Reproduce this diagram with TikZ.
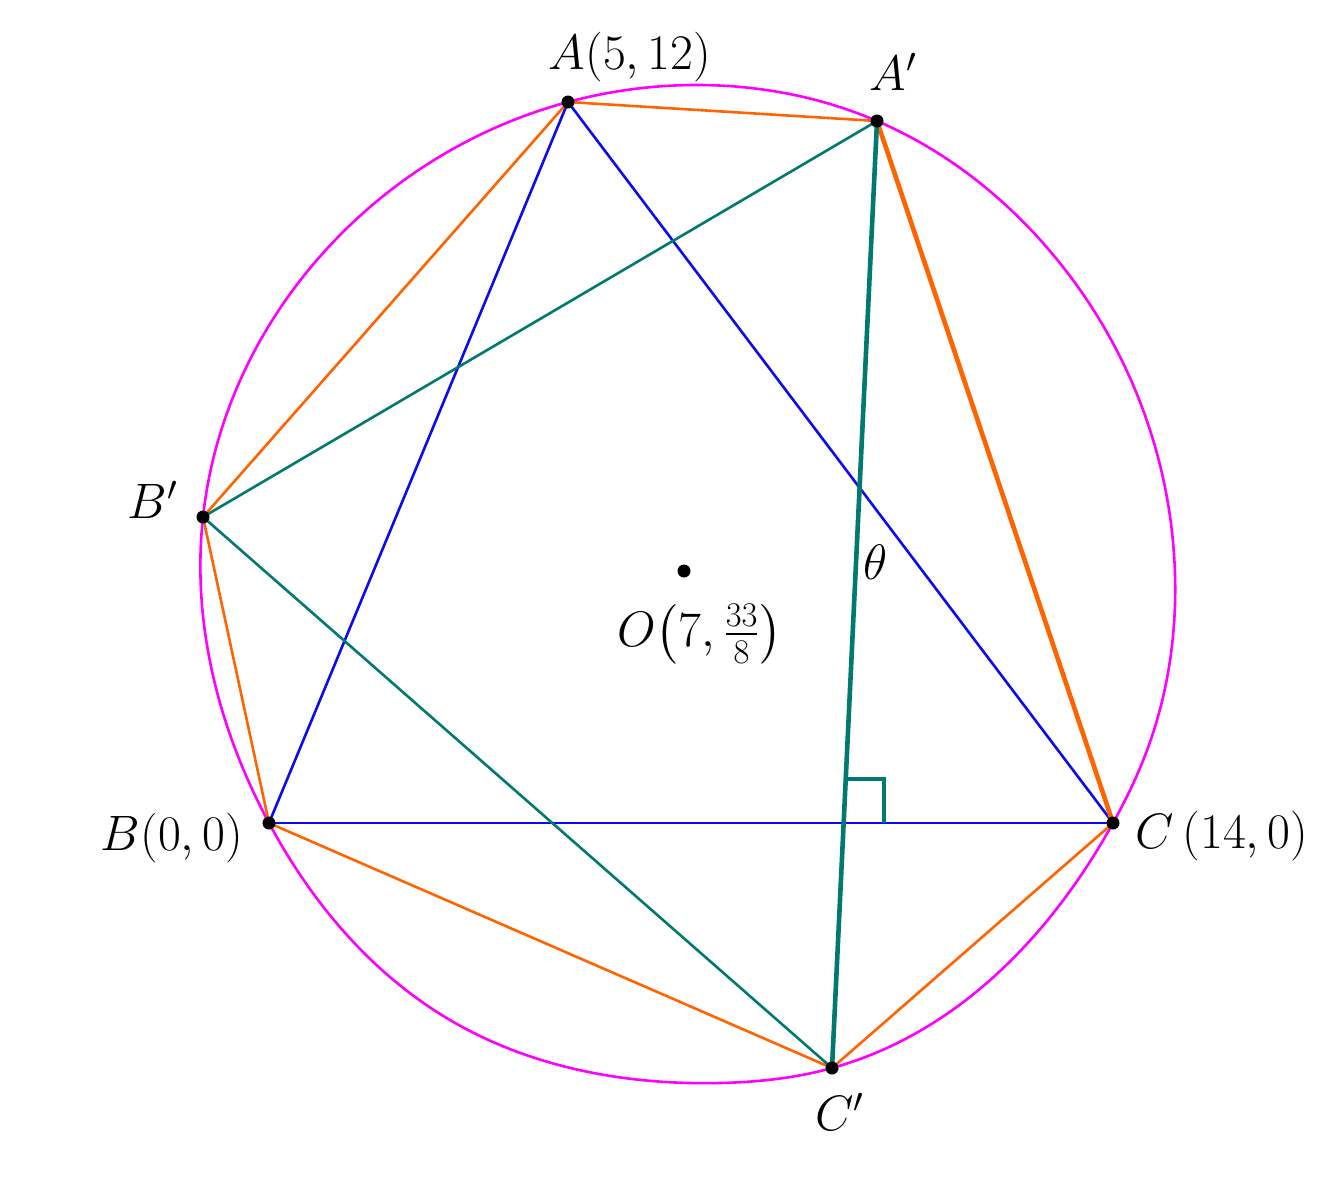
\documentclass[tikz,border=0pt]{standalone}
\usepackage{amsmath}
\usetikzlibrary{hobby}
\definecolor{myblue}{RGB}{10,10,245}
\definecolor{myorange}{RGB}{255,100,0}
\definecolor{mymagenta}{RGB}{255,0,255}
\definecolor{myteal}{RGB}{0,122,112}
\begin{document}
\begin{tikzpicture}[x=0.5pt,y=-0.5pt,
  blueline/.style={draw=myblue,line width=1.3pt},
  orangeline/.style={draw=myorange,line width=1.3pt},
  orangethick/.style={draw=myorange,line width=2.3pt},
  tealline/.style={draw=myteal,line width=1.3pt},
  tealthick/.style={draw=myteal,line width=2.3pt},
  circleline/.style={draw=mymagenta,line width=1.3pt},
  dot/.style={circle,fill=black,inner sep=0pt,minimum size=6.5pt},
  lbl/.style={font=\fontsize{24}{28}\selectfont,inner sep=0pt}]
\useasboundingbox (0,0) rectangle (1325,1196);
\fill[white] (0,0) rectangle (1325,1196);

% points
\coordinate (A) at (568,102);
\coordinate (Ap) at (877,121);
\coordinate (Bp) at (203,517);
\coordinate (B) at (269,823);
\coordinate (C) at (1113,823);
\coordinate (Cp) at (832,1068);
\coordinate (O) at (684,571);
\coordinate (R1) at (847,779);
\coordinate (R2) at (884,779);
\coordinate (R3) at (884,823);

% circumcircle
\draw[circleline,use Hobby shortcut,closed=true]
 (700,85) .. (Ap) .. (1032,231) .. (1175,575) .. (1146,753) .. (C) ..
 (Cp) .. (719,1083) .. (450,1020) .. (B) .. (Bp) .. (344,231) .. (A);

% triangle ABC
\draw[blueline] (A) -- (B);
\draw[blueline] (A) -- (C);
\draw[blueline] (B) -- (C);

% hexagon (orange)
\draw[orangeline] (A) -- (Ap);
\draw[orangeline] (A) -- (Bp);
\draw[orangeline] (Bp) -- (B);
\draw[orangeline] (B) -- (Cp);
\draw[orangeline] (Cp) -- (C);
\draw[orangethick] (Ap) -- (C);

% triangle A'B'C'
\draw[tealline] (Ap) -- (Bp);
\draw[tealline] (Bp) -- (Cp);
\draw[tealthick] (Ap) -- (Cp);

% right angle mark
\draw[tealthick] (R1) -- (R2) -- (R3);

% dots
\node[dot] (dA) at (A) {};
\node[dot] (dAp) at (Ap) {};
\node[dot] (dBp) at (Bp) {};
\node[dot] (dB) at (B) {};
\node[dot] (dC) at (C) {};
\node[dot] (dCp) at (Cp) {};
\node[dot] (dO) at (O) {};

% labels
\node[lbl] (lA) at (630,57) {$A(5,12)$};
\node[lbl] (lAp) at (893,72) {$A'$};
\node[lbl] (lBp) at (153,500) {$B'$};
\node[lbl] (lB) at (172,838) {$B(0,0)$};
\node[lbl] (lC) at (1222,836) {$C\,(14,0)$};
\node[lbl] (lCp) at (840,1112) {$C'$};
\node[lbl] (lth) at (876,562) {$\theta$};
\node[lbl] (lO) at (700,634) {$O\!\left(7,\frac{33}{8}\right)$};
\end{tikzpicture}
\end{document}
